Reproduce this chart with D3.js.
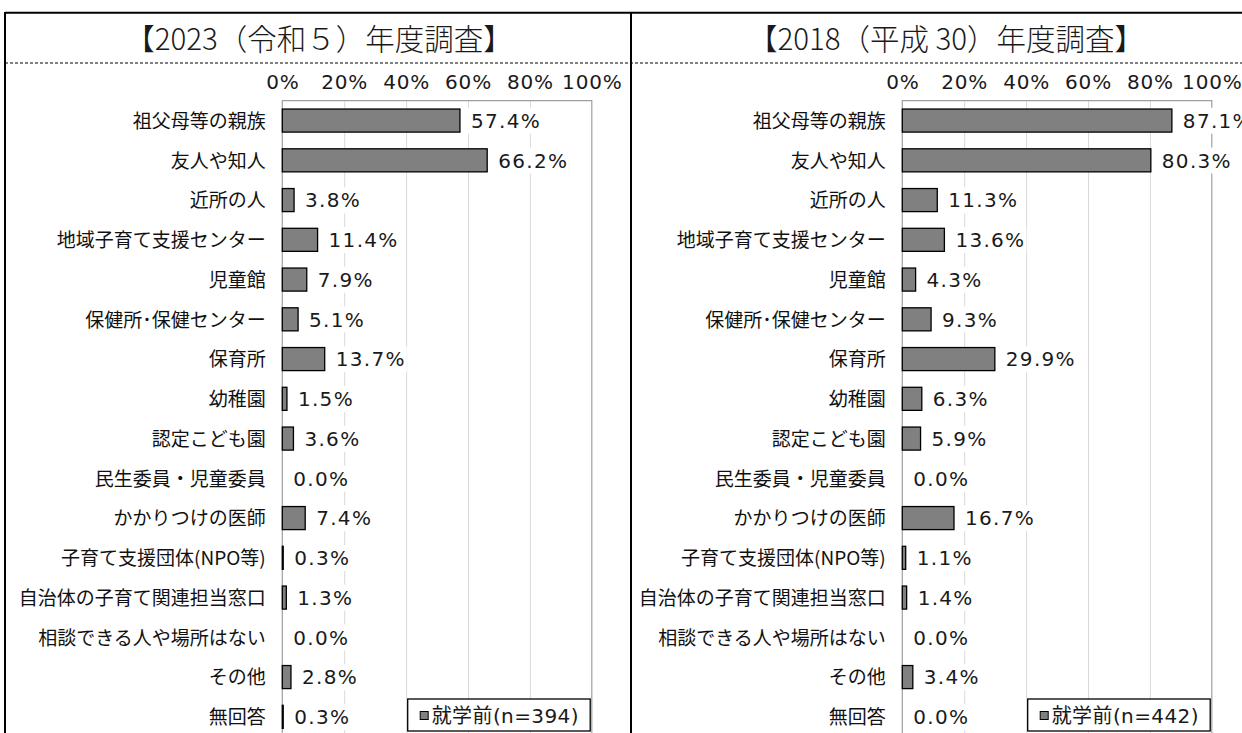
<!DOCTYPE html>
<html><head><meta charset="utf-8">
<script src="https://cdn.jsdelivr.net/npm/d3@7"></script>
<style>
html,body{margin:0;padding:0;background:#fff;overflow:hidden;}
svg{display:block;}
</style></head>
<body>
<svg id="chart" width="1242" height="733"></svg>
<script>
const categories = ["祖父母等の親族","友人や知人","近所の人","地域子育て支援センター","児童館","保健所･保健センター","保育所","幼稚園","認定こども園","民生委員・児童委員","かかりつけの医師","子育て支援団体(NPO等)","自治体の子育て関連担当窓口","相談できる人や場所はない","その他","無回答"];
const values2023 = [57.4,66.2,3.8,11.4,7.9,5.1,13.7,1.5,3.6,0.0,7.4,0.3,1.3,0.0,2.8,0.3];
const values2018 = [87.1,80.3,11.3,13.6,4.3,9.3,29.9,6.3,5.9,0.0,16.7,1.1,1.4,0.0,3.4,0.0];
const titles = ["【2023（令和５）年度調査】","【2018（平成 30）年度調査】"];
const legendLabels = ["就学前(n=394)","就学前(n=442)"];
const tickValues = [0,20,40,60,80,100];

const svg = d3.select("#chart");
const W = 1242, H = 733;
const CJK = "'Noto Sans CJK JP', sans-serif";
const NUM = "'DejaVu Sans', 'Noto Sans CJK JP', sans-serif";

const panels = [
  {plotL:282.3, titleX:319, values:values2023, title:titles[0], legend:legendLabels[0]},
  {plotL:902.3, titleX:946, values:values2018, title:titles[1], legend:legendLabels[1]}
];
const plotW = 309.5, plotTop = 100.7, step = 39.75;

// frame
svg.append("line").attr("x1",5).attr("x2",W).attr("y1",12.7).attr("y2",12.7).attr("stroke","#000").attr("stroke-width",2);
svg.append("line").attr("x1",5).attr("x2",5).attr("y1",12).attr("y2",H).attr("stroke","#000").attr("stroke-width",2);
svg.append("line").attr("x1",631).attr("x2",631).attr("y1",12).attr("y2",H).attr("stroke","#000").attr("stroke-width",2);
svg.append("line").attr("x1",5).attr("x2",W).attr("y1",63).attr("y2",63).attr("stroke","#000").attr("stroke-width",1).attr("stroke-dasharray","3,2");

panels.forEach(p => {
  const g = svg.append("g");
  const x = d3.scaleLinear().domain([0,100]).range([p.plotL, p.plotL+plotW]);
  const y = d3.scaleBand().domain(categories).range([plotTop, plotTop+step*categories.length]).paddingInner(0.42).paddingOuter(0.21);

  g.append("text").attr("x",p.titleX).attr("y",50).attr("text-anchor","middle")
    .attr("font-family",CJK).attr("font-size",29.5).attr("font-weight",300).attr("fill","#1a1a1a").text(p.title);

  // gridlines
  const grid = g.append("g").attr("transform",`translate(0,${plotTop})`)
    .call(d3.axisBottom(x).tickValues([20,40,60,80]).tickSize(H-plotTop).tickFormat(""));
  grid.select(".domain").remove();
  grid.selectAll("line").attr("stroke","#d9d9d9").attr("stroke-width",1);

  // plot border
  g.append("path").attr("d",`M${x(0)},${H+5}V${plotTop}H${x(100)}V${H+5}`)
    .attr("fill","none").attr("stroke","#a0a0a0").attr("stroke-width",1.2);

  // top axis labels
  const ax = g.append("g").attr("transform","translate(0,88.5)")
    .call(d3.axisTop(x).tickValues(tickValues).tickSize(0).tickPadding(0).tickFormat(d=>d+"%"));
  ax.select(".domain").remove();
  ax.selectAll("text").attr("font-family",NUM).attr("font-size",20).attr("letter-spacing","0.8px").attr("fill","#1a1a1a");

  // category labels
  g.selectAll(".cat").data(categories).join("text")
    .attr("x", p.plotL-16.5).attr("y", d=>y(d)+y.bandwidth()/2).attr("dy","0.38em")
    .attr("text-anchor","end").attr("font-family",CJK).attr("font-size",19).attr("fill","#111")
    .text(d=>d);

  // bars
  g.selectAll(".bar").data(p.values).join("rect")
    .attr("x", x(0)).attr("y",(d,i)=>y(categories[i]))
    .attr("width", d=>x(d)-x(0)).attr("height", y.bandwidth())
    .attr("fill","#808080").attr("stroke","#000").attr("stroke-width",1.3);

  // data labels with white background
  const lg = g.append("g");
  p.values.forEach((v,i) => {
    const t = lg.append("text").attr("x", x(v)+11).attr("y", y(categories[i])+y.bandwidth()/2).attr("dy","0.36em")
      .attr("font-family",NUM).attr("font-size",20).attr("letter-spacing","1.3px").attr("fill","#1a1a1a").text(v.toFixed(1)+"%");
    const b = t.node().getBBox();
    lg.insert("rect","text").attr("x",b.x-3).attr("y",b.y-1).attr("width",b.width+4).attr("height",b.height+2).attr("fill","#fff");
  });
  lg.selectAll("text").raise();

  // legend
  const lx = p.plotL+125.4, ly = 699;
  g.append("rect").attr("x",lx).attr("y",ly).attr("width",182.5).attr("height",32).attr("fill","#fff").attr("stroke","#000").attr("stroke-width",1.3);
  g.append("rect").attr("x",lx+12.5).attr("y",ly+12.5).attr("width",8).attr("height",8).attr("fill","#808080").attr("stroke","#000").attr("stroke-width",1);
  g.append("text").attr("x",lx+24).attr("y",ly+16.5).attr("dy","0.38em").attr("font-family",NUM).attr("font-size",20).attr("letter-spacing","0.4px").attr("fill","#1a1a1a").text(p.legend);
});
</script>
</body></html>
